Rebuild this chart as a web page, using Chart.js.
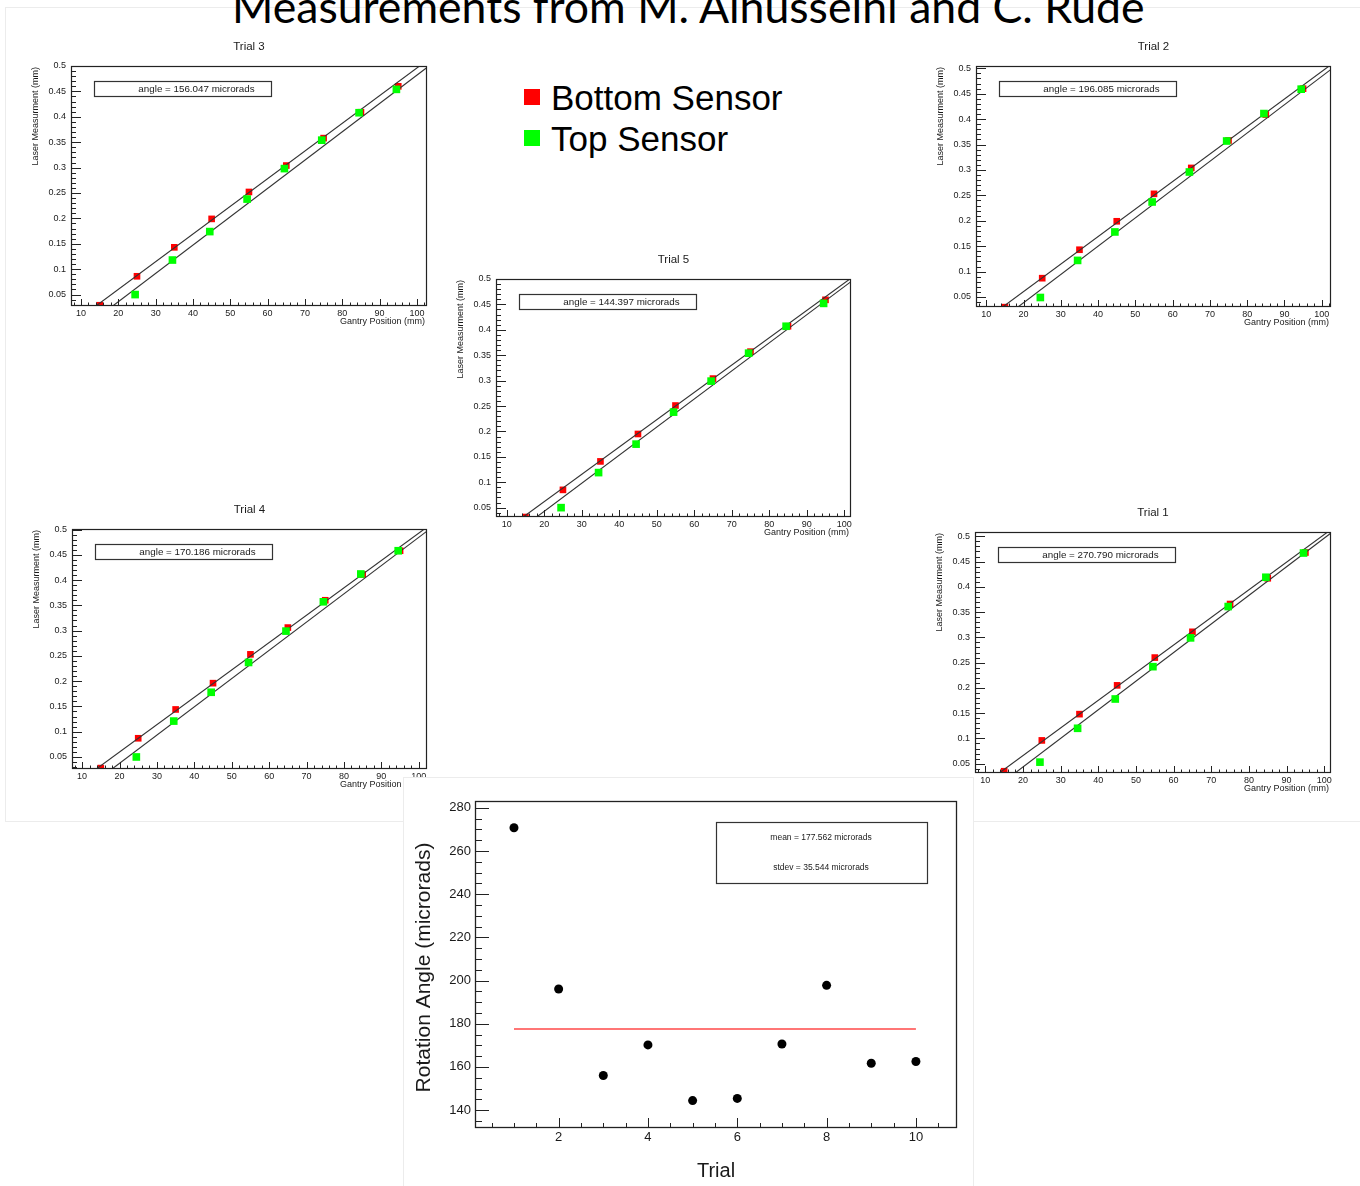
<!DOCTYPE html>
<html>
<head>
<meta charset="utf-8">
<script src="https://cdn.jsdelivr.net/npm/chart.js@4.4.1/dist/chart.umd.min.js"></script>
<style>
html,body{margin:0;padding:0;background:#fff;}
body{width:1360px;height:1186px;position:relative;overflow:hidden;font-family:"Liberation Sans",Arial,sans-serif;}
.abs{position:absolute;}
#title{font-family:Lato,"Open Sans",sans-serif;white-space:nowrap;color:#000;line-height:1;left:232px;top:0;}
.leg{font-family:"Liberation Sans",Arial,sans-serif;font-size:35px;white-space:nowrap;line-height:1;color:#000;left:551px;top:0;}
.sw{width:16px;height:16px;}
</style>
</head>
<body>
<div class="abs" style="left:5px;top:7px;width:1400px;height:815px;border:1px solid #ececec;box-sizing:border-box;"></div>
<div class="abs" id="title">Measurements from M. Alhusseini and C. Rude</div>

<div class="abs sw" style="left:524px;top:89px;background:#ff0000;"></div>
<div class="abs leg" id="legBottom">Bottom Sensor</div>
<div class="abs sw" style="left:524px;top:130px;background:#00ff00;"></div>
<div class="abs leg" id="legTop">Top Sensor</div>

<canvas class="abs" id="trial1"></canvas>
<canvas class="abs" id="trial2"></canvas>
<canvas class="abs" id="trial3"></canvas>
<canvas class="abs" id="trial4"></canvas>
<canvas class="abs" id="trial5"></canvas>

<canvas class="abs" id="summary" style="z-index:5;"></canvas>
<div class="abs" style="left:403px;top:777px;width:571px;height:420px;border:1px solid #ececec;box-sizing:border-box;z-index:6;pointer-events:none;"></div>

<script>
// ================= DATA =================
const bottomSensorX = [15, 25, 35, 45, 55, 65, 75, 85, 95];
const topSensorX    = [24.5, 34.5, 44.5, 54.5, 64.5, 74.5, 84.5, 94.5];

const trial1Bottom = [0.035, 0.096, 0.148, 0.205, 0.260, 0.311, 0.366, 0.417, 0.468];
const trial1Top    = [0.053, 0.120, 0.178, 0.242, 0.299, 0.361, 0.419, 0.467];
const trial2Bottom = [0.030, 0.087, 0.143, 0.199, 0.253, 0.304, 0.358, 0.409, 0.460];
const trial2Top    = [0.049, 0.122, 0.178, 0.237, 0.296, 0.357, 0.411, 0.459];
const trial3Bottom = [0.029, 0.086, 0.143, 0.199, 0.252, 0.304, 0.358, 0.409, 0.460];
const trial3Top    = [0.050, 0.118, 0.174, 0.238, 0.298, 0.354, 0.408, 0.454];
const trial4Bottom = [0.028, 0.087, 0.144, 0.196, 0.253, 0.306, 0.360, 0.411, 0.458];
const trial4Top    = [0.050, 0.121, 0.178, 0.237, 0.299, 0.357, 0.412, 0.458];
const trial5Bottom = [0.0315, 0.085, 0.141, 0.195, 0.251, 0.304, 0.357, 0.407, 0.459];
const trial5Top    = [0.050, 0.119, 0.175, 0.238, 0.299, 0.354, 0.407, 0.452];

// fitted lines (two end points each, x values / y values)
const trial1BottomFitX = [13.7, 100.9], trial1BottomFitY = [0.0315, 0.5086];
const trial1TopFitX    = [17.9, 101.8], trial1TopFitY    = [0.0315, 0.5066];
const trial2BottomFitX = [14.4, 102.0], trial2BottomFitY = [0.0303, 0.5046];
const trial2TopFitX    = [18.5, 102.5], trial2TopFitY    = [0.0303, 0.498];
const trial3BottomFitX = [14.0, 100.7], trial3BottomFitY = [0.0275, 0.5];
const trial3TopFitX    = [18.5, 102.7], trial3TopFitY    = [0.0275, 0.497];
const trial4BottomFitX = [13.8, 101.5], trial4BottomFitY = [0.0262, 0.501];
const trial4TopFitX    = [18.0, 102.2], trial4TopFitY    = [0.0262, 0.4967];
const trial5BottomFitX = [14.4, 101.5], trial5BottomFitY = [0.0316, 0.5];
const trial5TopFitX    = [18.0, 101.8], trial5TopFitY    = [0.0316, 0.4948];

const trialNames  = ['Trial 1', 'Trial 2', 'Trial 3', 'Trial 4', 'Trial 5'];
const trialAngles = [270.790, 196.085, 156.047, 170.186, 144.397];

// axis ranges of each trial plot
const trialXMin = [7.25, 7.23, 7.32, 7.3, 7.15];
const trialXMax = [101.8, 102.5, 102.7, 102.2, 101.8];
const trialYMin = [0.0315, 0.0303, 0.0275, 0.0262, 0.0316];
const trialYMax = [0.5086, 0.5046, 0.5, 0.501, 0.5];

// summary plot
const trialNumbers   = [1, 2, 3, 4, 5, 6, 7, 8, 9, 10];
const rotationAngles = [270.790, 196.085, 156.047, 170.186, 144.397, 145.4, 170.6, 197.8, 161.7, 162.5];
const meanAngle  = 177.562;
const stdevAngle = 35.544;
const meanLineX  = [1, 10];
const summaryXRange = [0.127, 10.92];
const summaryYRange = [131.7, 283.2];

// ================= LAYOUT =================
const trialFrames = [
  {L: 975, T: 532, R: 1331, B: 773},
  {L: 976, T: 66,  R: 1331, B: 307},
  {L: 71,  T: 66,  R: 427,  B: 306},
  {L: 72,  T: 529, R: 427,  B: 769},
  {L: 496, T: 279, R: 851,  B: 517}
];
const FONT = '"Liberation Sans", Arial, sans-serif';
const INK = '#1a1a1a';

function placeBaseline(el, y) {
  el.style.top = '0px';
  const probe = document.createElement('span');
  probe.style.display = 'inline-block';
  probe.style.width = '0px';
  probe.style.height = '0px';
  probe.style.verticalAlign = 'baseline';
  el.appendChild(probe);
  const off = probe.getBoundingClientRect().top - el.getBoundingClientRect().top;
  el.removeChild(probe);
  el.style.top = (y - off) + 'px';
}

const titleEl = document.getElementById('title');
titleEl.style.fontSize = '40px';
const tw = titleEl.getBoundingClientRect().width;
titleEl.style.fontSize = (40 * 913 / tw) + 'px';
placeBaseline(titleEl, 23);
placeBaseline(document.getElementById('legBottom'), 110);
placeBaseline(document.getElementById('legTop'), 151);

function eachStep(min, max, minor, major, cb) {
  const k0 = Math.ceil(min / minor - 1e-9), k1 = Math.floor(max / minor + 1e-9);
  for (let k = k0; k <= k1; k++) {
    const v = k * minor;
    const r = v / major;
    cb(v, Math.abs(r - Math.round(r)) < 1e-6);
  }
}

function rootPlugin(spec) {
  return {
    id: 'rootStyle',
    beforeDraw(chart) {
      if (spec.background) {
        const c = chart.ctx;
        c.save(); c.fillStyle = spec.background; c.fillRect(0, 0, chart.width, chart.height); c.restore();
      }
    },
    afterDraw(chart) {
      const ctx = chart.ctx, a = chart.chartArea, xs = chart.scales.x, ys = chart.scales.y;
      ctx.save();
      ctx.strokeStyle = '#222';
      ctx.lineWidth = 1;
      ctx.beginPath();
      eachStep(xs.min, xs.max, spec.xMinor, spec.xMajor, (v, major) => {
        const p = Math.round(xs.getPixelForValue(v)) + 0.5;
        const len = major ? spec.xMajorLen : spec.xMinorLen;
        ctx.moveTo(p, a.bottom); ctx.lineTo(p, a.bottom - len);
      });
      eachStep(ys.min, ys.max, spec.yMinor, spec.yMajor, (v, major) => {
        const p = Math.round(ys.getPixelForValue(v)) + 0.5;
        const len = major ? spec.yMajorLen : spec.yMinorLen;
        ctx.moveTo(a.left, p); ctx.lineTo(a.left + len, p);
      });
      ctx.stroke();
      ctx.lineWidth = spec.frameWidth;
      ctx.strokeRect(a.left + 0.5, a.top + 0.5, a.right - a.left - 1, a.bottom - a.top - 1);

      ctx.fillStyle = INK;
      (spec.boxes || []).forEach(b => {
        ctx.save();
        ctx.fillStyle = '#fff';
        ctx.fillRect(a.left + b.dx, a.top + b.dy, b.w, b.h);
        ctx.strokeStyle = '#333';
        ctx.lineWidth = b.lw;
        ctx.strokeRect(a.left + b.dx + 0.5, a.top + b.dy + 0.5, b.w, b.h);
        ctx.restore();
      });
      (spec.texts || []).forEach(t => {
        const bx = t.refX === 'L' ? a.left : t.refX === 'R' ? a.right : (a.left + a.right) / 2;
        const by = t.refY === 'T' ? a.top : t.refY === 'B' ? a.bottom : (a.top + a.bottom) / 2;
        ctx.save();
        ctx.font = t.size + 'px ' + FONT;
        ctx.fillStyle = INK;
        ctx.textBaseline = 'middle';
        ctx.textAlign = t.align;
        ctx.translate(bx + t.dx, by + t.dy);
        if (t.rotate) ctx.rotate(-Math.PI / 2);
        ctx.fillText(t.text, 0, 0);
        ctx.restore();
      });
      ctx.restore();
    }
  };
}

function fmt(v) { return String(Number(v.toFixed(3))); }

const trialBottomValues = [trial1Bottom, trial2Bottom, trial3Bottom, trial4Bottom, trial5Bottom];
const trialTopValues    = [trial1Top, trial2Top, trial3Top, trial4Top, trial5Top];
const trialBottomFits = [[trial1BottomFitX, trial1BottomFitY], [trial2BottomFitX, trial2BottomFitY],
  [trial3BottomFitX, trial3BottomFitY], [trial4BottomFitX, trial4BottomFitY], [trial5BottomFitX, trial5BottomFitY]];
const trialTopFits = [[trial1TopFitX, trial1TopFitY], [trial2TopFitX, trial2TopFitY],
  [trial3TopFitX, trial3TopFitY], [trial4TopFitX, trial4TopFitY], [trial5TopFitX, trial5TopFitY]];

function pairs(xs, ys) { return xs.map((x, i) => ({x: x, y: ys[i]})); }

function buildTrial(i) {
  const f = trialFrames[i];
  const cv = document.getElementById('trial' + (i + 1));
  const W = f.R - f.L + 72, H = f.B - f.T + 58;
  cv.width = W; cv.height = H;
  cv.style.left = (f.L - 60) + 'px';
  cv.style.top = (f.T - 32) + 'px';
  const tickFont = {family: FONT, size: 9};
  new Chart(cv, {
    type: 'scatter',
    data: {
      datasets: [
        {label: 'Top Sensor', data: pairs(topSensorX, trialTopValues[i]), backgroundColor: '#00ff00',
         pointStyle: 'rect', pointRadius: 5.4, borderWidth: 0, showLine: false, order: 0},
        {label: 'Bottom fit', data: pairs(trialBottomFits[i][0], trialBottomFits[i][1]), showLine: true,
         borderColor: '#333', borderWidth: 1.1, pointRadius: 0, fill: false, order: 1},
        {label: 'Top fit', data: pairs(trialTopFits[i][0], trialTopFits[i][1]), showLine: true,
         borderColor: '#333', borderWidth: 1.1, pointRadius: 0, fill: false, order: 1},
        {label: 'Bottom Sensor', data: pairs(bottomSensorX, trialBottomValues[i]), backgroundColor: '#ff0000',
         pointStyle: 'rect', pointRadius: 4.7, borderWidth: 0, showLine: false, order: 2}
      ]
    },
    options: {
      responsive: false, animation: false, events: [],
      layout: {padding: {left: 0, top: 32, right: 12, bottom: 0}},
      plugins: {legend: {display: false}, tooltip: {enabled: false}},
      scales: {
        x: {type: 'linear', min: trialXMin[i], max: trialXMax[i],
            afterFit: s => { s.height = 26; },
            grid: {display: false, drawTicks: false}, border: {display: false},
            ticks: {stepSize: 10, includeBounds: false, autoSkip: false, maxRotation: 0,
                    font: tickFont, color: INK, padding: 2, callback: v => fmt(v)}},
        y: {type: 'linear', min: trialYMin[i], max: trialYMax[i],
            afterFit: s => { s.width = 60; },
            grid: {display: false, drawTicks: false}, border: {display: false},
            ticks: {stepSize: 0.05, includeBounds: false, autoSkip: false,
                    font: tickFont, color: INK, padding: 5, callback: v => fmt(v)}}
      }
    },
    plugins: [rootPlugin({
      xMinor: 2, xMajor: 10, xMajorLen: 7, xMinorLen: 3.5,
      yMinor: 0.01, yMajor: 0.05, yMajorLen: 10, yMinorLen: 5,
      frameWidth: 1.2,
      boxes: [{dx: 23, dy: 15, w: 177, h: 15, lw: 1.2}],
      texts: [
        {text: trialNames[i], refX: 'C', refY: 'T', dx: 0, dy: -19, size: 11.5, align: 'center'},
        {text: 'angle = ' + trialAngles[i].toFixed(3) + ' microrads', refX: 'L', refY: 'T', dx: 125.5, dy: 23, size: 9.8, align: 'center'},
        {text: 'Laser Measurment (mm)', refX: 'L', refY: 'T', dx: -35, dy: 1, size: 9, align: 'right', rotate: true},
        {text: 'Gantry Position (mm)', refX: 'R', refY: 'B', dx: -2, dy: 16, size: 9, align: 'right'}
      ]
    })]
  });
}
for (let i = 0; i < 5; i++) buildTrial(i);

// ================= SUMMARY =================
(function () {
  const cv = document.getElementById('summary');
  cv.width = 570; cv.height = 409;
  cv.style.left = '403px'; cv.style.top = '777px';
  const tickFont = {family: FONT, size: 13};
  new Chart(cv, {
    type: 'scatter',
    data: {
      datasets: [
        {label: 'Rotation angle', data: pairs(trialNumbers, rotationAngles), backgroundColor: '#000',
         pointStyle: 'circle', pointRadius: 4.5, borderWidth: 0, showLine: false, order: 0},
        {label: 'Mean', data: pairs(meanLineX, meanLineX.map(() => meanAngle)), showLine: true,
         borderColor: 'rgba(255,40,40,0.85)', borderWidth: 1.5, pointRadius: 0, fill: false, order: 1}
      ]
    },
    options: {
      responsive: false, animation: false, events: [],
      layout: {padding: {left: 0, top: 24, right: 16, bottom: 0}},
      plugins: {legend: {display: false}, tooltip: {enabled: false}},
      scales: {
        x: {type: 'linear', min: summaryXRange[0], max: summaryXRange[1],
            afterFit: s => { s.height = 58; },
            grid: {display: false, drawTicks: false}, border: {display: false},
            ticks: {stepSize: 2, includeBounds: false, autoSkip: false, maxRotation: 0,
                    font: tickFont, color: INK, padding: 2}},
        y: {type: 'linear', min: summaryYRange[0], max: summaryYRange[1],
            afterFit: s => { s.width = 72; },
            grid: {display: false, drawTicks: false}, border: {display: false},
            ticks: {stepSize: 20, includeBounds: false, autoSkip: false,
                    font: tickFont, color: INK, padding: 4}}
      }
    },
    plugins: [rootPlugin({
      background: '#ffffff',
      xMinor: 0.5, xMajor: 2, xMajorLen: 10, xMinorLen: 5,
      yMinor: 5, yMajor: 20, yMajorLen: 14, yMinorLen: 7,
      frameWidth: 1.3,
      boxes: [{dx: 241, dy: 21, w: 211, h: 61, lw: 1.2}],
      texts: [
        {text: 'mean = ' + meanAngle.toFixed(3) + ' microrads', refX: 'L', refY: 'T', dx: 346, dy: 37, size: 8.5, align: 'center'},
        {text: 'stdev = ' + stdevAngle.toFixed(3) + ' microrads', refX: 'L', refY: 'T', dx: 346, dy: 67, size: 8.5, align: 'center'},
        {text: 'Rotation Angle (microrads)', refX: 'L', refY: 'C', dx: -51, dy: 3, size: 21, align: 'center', rotate: true},
        {text: 'Trial', refX: 'C', refY: 'B', dx: 0, dy: 43, size: 20, align: 'center'}
      ]
    })]
  });
})();
</script>
</body>
</html>
